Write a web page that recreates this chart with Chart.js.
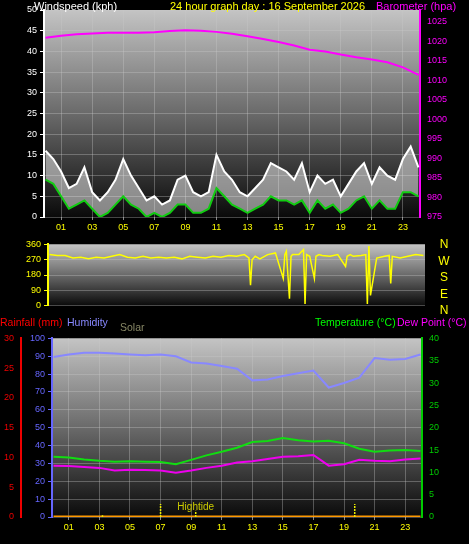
<!DOCTYPE html>
<html><head><meta charset="utf-8">
<script src="https://cdn.jsdelivr.net/npm/chart.js@4"></script>
<style>
body{margin:0;background:#000;width:469px;height:544px;overflow:hidden;position:relative;font-family:"Liberation Sans",sans-serif}
canvas{position:absolute;left:0}
.t{position:absolute;font-size:11px;white-space:nowrap;line-height:12px}
.s{font-size:10.5px}
</style></head><body>
<canvas id="c1" width="469" height="240" style="top:0"></canvas>
<canvas id="c2" width="469" height="78" style="top:236px"></canvas>
<canvas id="c3" width="469" height="214" style="top:330px"></canvas>
<div class="t" style="left:34px;top:0;color:#fff">Windspeed (kph)</div>
<div class="t" style="left:170px;top:0;color:#ff0">24 hour graph day : 16 September 2026</div>
<div class="t" style="left:376px;top:0;color:#f0f">Barometer (hpa)</div>
<div class="t" style="left:438px;top:236px;color:#ff0;line-height:16.5px;font-size:12px;text-align:center;width:12px">N<br>W<br>S<br>E<br>N</div>
<div class="t s" style="left:0;top:316px;color:#f00">Rainfall (mm)</div>
<div class="t s" style="left:67px;top:316px;color:#88f">Humidity</div>
<div class="t s" style="left:120px;top:321px;color:#886">Solar</div>
<div class="t s" style="left:315px;top:316px;color:#0f0">Temperature (°C)</div>
<div class="t s" style="left:397px;top:316px;color:#f0f">Dew Point (°C)</div>
<script>
const hoursHalf=[0,0.5,1,1.5,2,2.5,3,3.5,4,4.5,5,5.5,6,6.5,7,7.5,8,8.5,9,9.5,10,10.5,11,11.5,12,12.5,13,13.5,14,14.5,15,15.5,16,16.5,17,17.5,18,18.5,19,19.5,20,20.5,21,21.5,22,22.5,23,23.5,24];
const windAvg=[9,8,5,2,3,4,2,0,1,3,5,3,2,0,1,0,1,3,3,1,1,2,7,5,3,2,1,2,3,5,4,4,3,4,1,4,2,3,1,2,4,5,2,4,2,2,6,6,5];
const windGust=[16,14,11,7,8,12,6,4,6,9,14,10,7,4,5,3,4,9,10,6,5,6,15,11,9,6,5,7,9,13,12,11,9,13,6,10,8,9,5,8,11,13,8,12,10,9,14,17,12];
const hoursFull=[0,1,2,3,4,5,6,7,8,9,10,11,12,13,14,15,16,17,18,19,20,21,22,23,24];
const baro=[1020.9,1021.4,1021.8,1022,1022.2,1022.2,1022.2,1022.3,1022.6,1022.8,1022.7,1022.4,1021.9,1021.3,1020.6,1019.8,1018.9,1017.8,1017.4,1016.6,1015.9,1015.3,1014.6,1013.3,1011.4];
const dirHours=[0,0.5,1,1.5,2,2.5,3,3.5,4,4.5,5,5.5,6,6.5,7,7.5,8,8.5,9,9.5,10,10.5,11,11.5,12,12.5,12.8,12.9,13,13.2,13.5,14,14.5,15,15.1,15.2,15.4,15.5,15.6,16,16.3,16.4,16.5,16.7,17,17.1,17.3,17.5,18,18.5,19,19.1,19.3,19.5,20,20.3,20.4,20.5,20.6,21,21.5,21.8,21.9,22,22.5,23,23.5,24];
const windDir=[300,295,295,280,285,275,285,280,290,300,285,280,290,280,285,280,285,275,290,285,280,290,285,295,290,300,280,120,270,290,275,300,310,160,300,320,40,290,300,300,330,10,300,290,160,290,300,295,290,300,230,290,300,290,295,300,10,350,60,280,290,295,130,290,280,290,300,295];
const humidity=[89.6,91,92,92,91.5,91,90.5,91,90,86.5,86,84.5,83,76.5,77,79,80.5,82,72.5,75,78,89,88,88.5,91];
const temperature=[13.5,13.3,12.9,12.6,12.4,12.5,12.4,12.3,11.8,12.8,13.8,14.6,15.5,16.8,17.0,17.7,17.2,16.9,17.1,16.5,15.3,14.6,14.9,15.0,14.8];
const dewPoint=[11.5,11.4,11.2,11.0,10.4,10.6,10.5,10.4,9.9,10.4,11.0,11.5,12.2,12.5,13.0,13.5,13.6,13.9,11.5,11.8,12.8,12.6,12.5,12.9,13.1];
const rainfall=[0,0,0,0,0,0,0,0,0,0,0,0,0,0,0,0,0,0,0,0,0,0,0,0,0];
const tideHours=[3.2,7.0,9.3,19.7];
const tideLevels=[0.4,2.9,1.4,2.9];
const xTicks=[1,3,5,7,9,11,13,15,17,19,21,23];

const F={family:"Liberation Sans",size:9};
const pts=(xs,ys)=>xs.map((x,i)=>({x,y:ys[i]}));
const bg={id:'bg',beforeDraw(c){const a=c.chartArea,g=c.ctx;const gr=g.createLinearGradient(0,a.top,0,a.bottom);gr.addColorStop(0,'#c4c4c4');gr.addColorStop(0.5,'#6a6a6a');gr.addColorStop(1,'#0a0a0a');g.save();g.fillStyle=gr;g.fillRect(a.left,a.top,a.right-a.left,a.bottom-a.top);g.restore();}};
function xAxis(display,h){return {type:'linear',min:-0.1,max:24.1,display:display,afterBuildTicks(s){s.ticks=xTicks.map(v=>({value:v}));},
 ticks:{color:'#ff0',font:F,padding:2,callback:v=>String(v).padStart(2,'0'),autoSkip:false,maxRotation:0},
 grid:{color:'rgba(200,200,200,0.35)',tickColor:'#888',tickLength:3,borderDash:[1,2]},border:{display:false},afterFit(s){s.height=h;}};}
function yAxis(pos,min,max,step,color,w,grid,lim){return {position:pos,min,max,ticks:{stepSize:step,color,font:F,padding:3,callback:v=>(lim!==undefined&&v>lim)?'':String(v)},
 afterBuildTicks(s){s.ticks=[];for(let v=min;v<=max+1e-9;v+=step)s.ticks.push({value:v});},
 grid:{display:grid,color:'rgba(200,200,200,0.35)',borderDash:[1,2],tickColor:color,tickLength:4,drawOnChartArea:grid},
 border:{display:true,color,width:2},afterFit(s){s.width=w;}};}
const base={responsive:false,animation:false,plugins:{legend:{display:false},tooltip:{enabled:false}},elements:{point:{radius:0}}};

new Chart(c1,{type:'line',plugins:[bg],data:{datasets:[
 {data:pts(hoursFull,baro),yAxisID:'yb',borderColor:'#f0f',borderWidth:2},
 {data:pts(hoursHalf,windAvg),yAxisID:'y',borderColor:'#1c1',borderWidth:2},
 {data:pts(hoursHalf,windGust),yAxisID:'y',borderColor:'#fff',borderWidth:2,fill:'-1',backgroundColor:'rgba(235,235,235,0.55)'}
]},options:{...base,layout:{padding:{top:10,right:0}},scales:{x:xAxis(true,23),
 y:yAxis('left',0,50,5,'#fff',44,true),yb:{...yAxis('right',975,1028,5,'#f0f',49,false,1025)}}}});

new Chart(c2,{type:'line',plugins:[bg],data:{datasets:[
 {data:pts(dirHours,windDir),borderColor:'#ff0',borderWidth:1.5}
]},options:{...base,layout:{padding:{top:4,bottom:7}},scales:{x:xAxis(false,0),
 y:yAxis('left',0,360,90,'#ff0',48,true),yr:{position:'right',display:true,min:0,max:360,ticks:{display:false},grid:{display:false},border:{display:false},afterFit(s){s.width=44;}}}}});

const tide={id:'tide',afterDatasetsDraw(c){const g=c.ctx,x=c.scales.x,y=c.scales.yt;g.save();g.strokeStyle='#ee0';g.lineWidth=1.5;g.setLineDash([2,1]);
 tideHours.forEach((h,i)=>{g.beginPath();g.moveTo(x.getPixelForValue(h),y.getPixelForValue(0));g.lineTo(x.getPixelForValue(h),y.getPixelForValue(tideLevels[i]));g.stroke();});
 g.setLineDash([]);g.font='10px Liberation Sans';g.fillStyle='#cc0';g.fillText('Hightide',x.getPixelForValue(8.1),y.getPixelForValue(1.5));g.restore();}};
new Chart(c3,{type:'line',plugins:[bg,tide],data:{datasets:[
 {data:pts(hoursFull,humidity),yAxisID:'yh',borderColor:'#88f',borderWidth:2},
 {data:pts(hoursFull,temperature),yAxisID:'yt',borderColor:'#1d1',borderWidth:2},
 {data:pts(hoursFull,dewPoint),yAxisID:'yt',borderColor:'#e0e',borderWidth:2},
 {data:pts(hoursFull,rainfall),yAxisID:'yr',borderColor:'#f90',borderWidth:3}
]},options:{...base,layout:{padding:{top:6}},scales:{x:xAxis(true,27),
 yh:yAxis('left',0,100,10,'#66f',31,true),yr:yAxis('left',0,30,5,'#e00',21,false),yt:yAxis('right',0,40,5,'#0c0',47,false)}}});
</script></body></html>
